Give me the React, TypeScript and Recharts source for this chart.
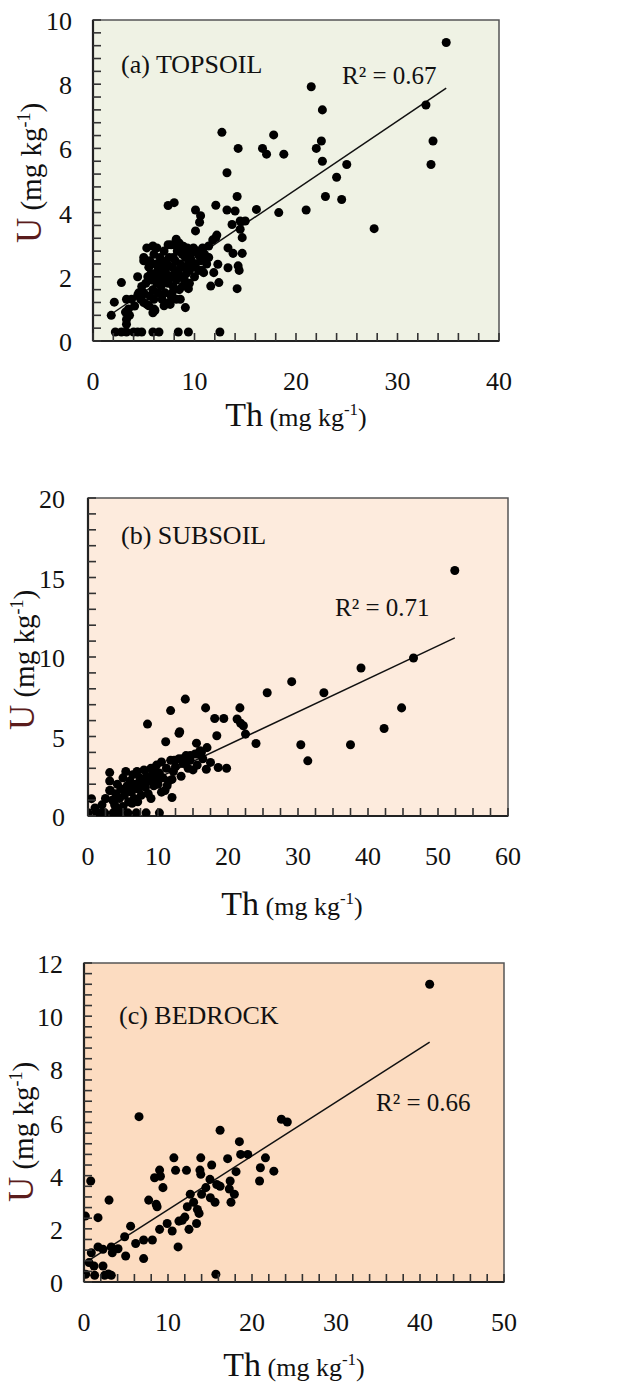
import React from "react";
import {
  ScatterChart,
  Scatter,
  XAxis,
  YAxis,
  ZAxis,
  ReferenceArea,
  ReferenceLine,
} from "recharts";

// Th (x) vs U (y), mg/kg
const topsoil: [number, number][] = [
  [34.8, 9.3], [21.5, 7.92], [22.6, 7.2], [32.8, 7.35], [12.7, 6.5], [17.8, 6.42], [16.7, 6.0],
  [17.1, 5.82], [18.8, 5.82], [14.3, 6.0], [22.0, 6.0], [22.5, 6.23], [33.5, 6.23], [22.6, 5.6],
  [25.0, 5.5], [33.3, 5.5], [13.2, 5.24], [24.0, 5.1], [22.9, 4.5], [24.5, 4.41], [14.2, 4.5],
  [21.0, 4.08], [18.3, 4.0], [16.1, 4.1], [27.7, 3.5],
  [7.4, 4.22], [8.0, 4.31], [10.1, 4.08], [12.1, 4.23], [13.2, 4.08], [14.0, 4.05], [10.6, 3.9],
  [10.5, 3.7], [13.7, 3.63], [14.5, 3.74], [15.0, 3.74], [10.1, 3.43], [14.5, 3.48], [14.7, 3.22],
  [12.1, 3.22], [11.4, 2.96], [13.3, 2.9], [14.7, 2.73], [13.8, 2.73], [13.3, 2.28], [14.3, 2.34],
  [14.4, 2.2], [12.3, 2.39], [11.9, 2.13], [12.4, 1.82], [11.6, 1.71], [14.2, 1.63], [10.5, 2.65],
  [10.9, 2.13], [11.3, 2.6], [10.2, 2.75], [11.8, 3.15], [12.2, 3.3],
  [2.8, 1.82], [2.1, 1.21], [1.8, 0.8], [3.3, 1.3], [3.3, 0.67], [3.3, 0.52], [3.2, 0.9], [4.4, 2.0],
  [4.1, 1.09], [4.4, 1.42], [4.9, 1.45], [5.3, 1.14], [5.9, 0.88], [6.1, 0.95], [9.1, 1.04],
  [8.6, 1.3], [9.4, 1.63], [7.6, 1.14], [3.5, 1.0], [3.6, 0.8], [3.8, 1.3],
  [2.2, 0.28], [2.8, 0.28], [3.3, 0.28], [4.0, 0.28], [4.4, 0.28], [4.8, 0.28], [5.9, 0.28],
  [6.5, 0.28], [8.4, 0.28], [9.4, 0.28], [12.5, 0.28],
  [5.3, 2.9], [5.9, 2.96], [5.0, 2.6], [5.0, 2.5], [7.4, 3.0], [8.0, 3.0], [8.2, 3.17], [8.5, 3.05],
  [5.0, 1.5], [5.2, 1.8], [5.4, 2.0], [5.5, 2.3], [5.6, 2.5], [5.8, 1.9], [5.9, 1.6], [6.0, 1.3],
  [6.1, 2.1], [6.2, 2.4], [6.3, 1.8], [6.4, 1.5], [6.5, 2.2], [6.6, 2.0], [6.7, 1.7], [6.8, 2.5],
  [6.9, 2.3], [7.0, 1.9], [7.1, 1.5], [7.2, 2.1], [7.3, 2.4], [7.4, 1.8], [7.5, 2.6], [7.6, 2.0],
  [7.7, 1.4], [7.8, 2.3], [7.9, 1.7], [8.0, 2.1], [8.1, 2.5], [8.2, 1.9], [8.3, 2.8], [8.4, 2.2],
  [8.5, 1.6], [8.6, 2.4], [8.7, 2.0], [8.8, 2.7], [8.9, 2.3], [9.0, 1.9], [9.1, 2.6], [9.2, 2.1],
  [9.3, 2.9], [9.4, 2.4], [9.5, 2.2], [9.6, 2.7], [9.7, 2.5], [9.8, 2.3], [9.9, 2.9], [10.1, 2.4],
  [10.3, 2.8], [10.4, 2.2], [10.6, 2.5], [10.8, 2.9], [11.0, 2.7], [11.2, 2.4], [11.4, 2.6],
  [6.0, 2.7], [6.3, 2.9], [7.0, 2.8], [7.7, 3.0], [8.9, 2.95], [9.2, 2.8], [4.5, 1.5], [4.7, 1.3],
  [4.8, 1.7], [5.0, 1.2], [5.5, 1.1], [5.6, 1.4], [6.0, 1.0], [6.8, 1.3], [7.0, 1.1], [7.5, 1.2],
  [7.8, 1.5], [8.2, 1.3], [8.8, 1.7], [6.2, 1.9], [6.6, 2.6], [7.1, 2.2], [7.9, 2.6], [8.6, 2.9],
  [9.5, 1.8], [10.0, 2.0], [10.7, 2.2], [6.4, 2.3], [5.7, 2.1],
];

const subsoil: [number, number][] = [
  [52.4, 15.44], [46.5, 9.94], [39.0, 9.31], [29.1, 8.45], [25.6, 7.75], [33.7, 7.75], [13.9, 7.35],
  [11.8, 6.63], [16.8, 6.8], [21.7, 6.8], [44.8, 6.8], [18.1, 6.13], [19.4, 6.13], [21.3, 6.1],
  [21.8, 5.83], [22.2, 5.68], [8.5, 5.78], [13.1, 5.3], [13.0, 5.2], [42.3, 5.5], [18.4, 5.05],
  [22.5, 5.15], [11.1, 4.67], [15.5, 4.58], [24.0, 4.56], [30.4, 4.48], [37.5, 4.48], [17.0, 4.3],
  [31.4, 3.47], [17.5, 3.37], [18.6, 3.05], [19.8, 3.0], [16.9, 2.94], [12.0, 1.16], [0.5, 1.09],
  [0, 0.2], [1.2, 0.2], [1.9, 0.2], [2.4, 0.2], [3.6, 0.2], [4.5, 0.2], [5.7, 0.2], [6.9, 0.2],
  [8.3, 0.2], [10.2, 0.2], [3.1, 2.73], [3.1, 2.2], [3.1, 1.6],
  [14.6, 3.8], [15.7, 3.9], [16.2, 4.0], [13.5, 3.6], [12.3, 3.5],
  [3.2, 1.6], [3.5, 1.0], [3.8, 0.7], [4.0, 1.4], [4.2, 2.0], [4.5, 1.1], [4.7, 1.7], [5.0, 2.4],
  [5.2, 1.3], [5.4, 2.8], [5.6, 1.9], [5.8, 0.9], [6.0, 2.2], [6.2, 1.5], [6.4, 2.6], [6.6, 1.1],
  [6.8, 2.0], [7.0, 2.8], [7.2, 1.7], [7.4, 2.4], [7.6, 1.3], [7.8, 2.1], [8.0, 2.9], [8.2, 1.8],
  [8.4, 2.5], [8.6, 1.4], [8.8, 2.2], [9.0, 3.0], [9.2, 2.6], [9.4, 1.9], [9.6, 2.3], [9.8, 3.2],
  [10.0, 2.0], [10.2, 2.7], [10.5, 3.4], [10.7, 2.4], [11.0, 1.6], [11.2, 3.0], [11.5, 2.2],
  [11.8, 3.5], [12.2, 2.8], [12.5, 3.1], [13.0, 3.6], [13.3, 2.5], [13.6, 3.3], [14.0, 3.8],
  [14.3, 3.0], [14.6, 3.5], [15.0, 2.9], [15.3, 3.9], [15.6, 3.2], [16.0, 4.1], [16.4, 3.6],
  [6.3, 0.8], [7.1, 0.9], [9.0, 1.1], [10.5, 1.5], [11.3, 1.9], [12.0, 2.3], [5.0, 0.6], [4.0, 0.5],
  [2.5, 1.1], [2.0, 0.7], [1.0, 0.5], [5.5, 1.6], [6.5, 1.8], [7.5, 2.0], [8.5, 2.3], [9.5, 2.8],
];

const bedrock: [number, number][] = [
  [41.15, 11.2], [6.55, 6.22], [23.5, 6.12], [24.2, 6.02], [16.2, 5.71], [18.5, 5.28], [18.65, 4.8],
  [19.5, 4.8], [10.7, 4.67], [13.9, 4.67], [17.1, 4.64], [21.6, 4.67], [15.2, 4.4], [21.0, 4.3],
  [9.0, 4.21], [10.9, 4.2], [12.2, 4.2], [13.8, 4.21], [22.6, 4.17], [18.1, 4.15], [8.4, 3.92],
  [9.1, 3.98], [13.9, 4.05], [15.0, 3.86], [20.9, 3.8], [0.8, 3.8], [17.4, 3.8], [15.8, 3.67],
  [16.2, 3.6], [17.3, 3.5], [9.4, 3.55], [14.5, 3.55], [12.65, 3.3], [17.9, 3.3], [14.0, 3.3],
  [2.98, 3.08], [7.7, 3.08], [13.05, 3.0], [15.04, 3.17], [15.6, 3.0], [17.5, 3.0], [8.6, 2.92],
  [8.7, 2.83], [12.3, 2.83], [13.5, 2.73], [13.7, 2.58], [1.67, 2.42], [0.16, 2.48], [12.0, 2.44],
  [11.3, 2.29], [11.7, 2.32], [9.9, 2.2], [13.4, 2.2], [5.55, 2.1], [9.0, 1.98], [10.5, 1.92],
  [12.5, 1.98], [4.84, 1.7], [6.15, 1.45], [7.1, 1.58], [8.14, 1.58], [11.2, 1.32], [7.1, 0.88],
  [4.96, 0.98], [1.67, 1.32], [2.26, 1.23], [3.25, 1.32], [4.05, 1.25], [3.37, 1.1], [0.87, 1.1],
  [0.6, 0.73], [1.19, 0.6], [2.26, 0.6], [0.2, 0.29], [1.27, 0.25], [2.46, 0.25], [3.25, 0.25],
  [15.7, 0.29], [2.9, 0.3],
];

// fitted lines, end points
const trendTopsoil = [{ x: 2.0, y: 0.88 }, { x: 34.8, y: 7.88 }];
const trendSubsoil = [{ x: 0, y: 0.32 }, { x: 52.4, y: 11.2 }];
const trendBedrock = [{ x: 0.67, y: 0.83 }, { x: 41.15, y: 9.02 }];

const FONT = "'Liberation Serif', 'Times New Roman', serif";
const TICK_LEN = 8;

const ticksFor = (max: number, step: number) =>
  Array.from({ length: Math.round(max / step) + 1 }, (_, i) => +(i * step).toFixed(3));

const isMajor = (v: number, step: number) => Math.abs(v / step - Math.round(v / step)) < 1e-6;

// every tick gets an inward mark; only the majors get a label (placed outside the frame)
const makeYTick = (major: number, labelX: number, plotLeft: number) => (props: any) => {
  const { payload } = props;
  const c = payload.coordinate;
  return (
    <g>
      <line x1={plotLeft} y1={c} x2={plotLeft + TICK_LEN} y2={c} stroke="#333" strokeWidth={1.6} />
      {isMajor(payload.value, major) && (
        <text x={labelX} y={c} dy={10} textAnchor="end" fontSize={26} fontFamily={FONT} fill="#111">
          {payload.value}
        </text>
      )}
    </g>
  );
};

const makeXTick = (major: number, plotBottom: number) => (props: any) => {
  const { payload } = props;
  const c = payload.coordinate;
  return (
    <g>
      <line x1={c} y1={plotBottom} x2={c} y2={plotBottom - TICK_LEN} stroke="#333" strokeWidth={1.6} />
      {isMajor(payload.value, major) && (
        <text x={c} y={plotBottom + 40} dy={9} textAnchor="middle" fontSize={26} fontFamily={FONT} fill="#111">
          {payload.value}
        </text>
      )}
    </g>
  );
};

interface PanelProps {
  top: number;
  height: number;
  margin: { top: number; right: number; bottom: number; left: number };
  data: [number, number][];
  trend: { x: number; y: number }[];
  xMax: number;
  xStep: number;
  xMajor: number;
  yMax: number;
  yStep: number;
  yMajor: number;
  yGap: number;
  bg: string;
}

function Panel(p: PanelProps) {
  const pts = p.data.map(([x, y]) => ({ x, y }));
  const plotH = p.height - p.margin.top - p.margin.bottom;
  const plotW = 632 - p.margin.left - p.margin.right;
  const plotBottom = p.margin.top + plotH;
  return (
    <div style={{ position: "absolute", left: 0, top: p.top, width: 632, height: p.height }}>
      <div
        style={{
          position: "absolute",
          left: p.margin.left,
          top: p.margin.top,
          width: plotW,
          height: plotH,
          background: p.bg,
        }}
      />
      <div style={{ position: "absolute", left: 0, top: 0 }}>
        <ScatterChart width={632} height={p.height} margin={p.margin}>
          <XAxis
            type="number"
            dataKey="x"
            domain={[0, p.xMax]}
            ticks={ticksFor(p.xMax, p.xStep)}
            interval={0}
            allowDataOverflow
            mirror
            tickLine={false}
            axisLine={false}
            tick={makeXTick(p.xMajor, plotBottom)}
          />
          <YAxis
            type="number"
            dataKey="y"
            domain={[0, p.yMax]}
            ticks={ticksFor(p.yMax, p.yStep)}
            interval={0}
            allowDataOverflow
            mirror
            tickLine={false}
            axisLine={false}
            tick={makeYTick(p.yMajor, p.margin.left - p.yGap, p.margin.left)}
          />
          <ZAxis range={[70, 70]} />
          <ReferenceArea
            x1={0}
            x2={p.xMax}
            y1={0}
            y2={p.yMax}
            fill="none"
            fillOpacity={0}
            stroke="#555"
            strokeWidth={1.5}
          />
          <ReferenceLine segment={[{ x: 0, y: 0 }, { x: p.xMax, y: 0 }]} stroke="#222" strokeWidth={2.2} />
          <ReferenceLine segment={[{ x: 0, y: 0 }, { x: 0, y: p.yMax }]} stroke="#222" strokeWidth={2.2} />
          <ReferenceLine segment={p.trend} stroke="#111" strokeWidth={1.5} />
          <Scatter data={pts} fill="#000" isAnimationActive={false} />
        </ScatterChart>
      </div>
    </div>
  );
}

function YTitle({ x, y }: { x: number; y: number }) {
  return (
    <text transform={`translate(${x},${y}) rotate(-90)`} textAnchor="middle" fontFamily={FONT} fill="#111">
      <tspan fontSize={35} fill="#5a1c1c">U</tspan>
      <tspan fontSize={29}> (mg kg</tspan>
      <tspan fontSize={18} dy={-11}>-1</tspan>
      <tspan fontSize={29} dy={11}>)</tspan>
    </text>
  );
}

function XTitle({ x, y }: { x: number; y: number }) {
  return (
    <text x={x} y={y} textAnchor="middle" fontFamily={FONT} fill="#111">
      <tspan fontSize={34}>Th</tspan>
      <tspan fontSize={26}> (mg kg</tspan>
      <tspan fontSize={17} dy={-11}>-1</tspan>
      <tspan fontSize={26} dy={11}>)</tspan>
    </text>
  );
}

export default function App() {
  return (
    <div
      style={{
        position: "absolute",
        left: 0,
        top: 0,
        width: 632,
        height: 1385,
        background: "#fff",
        fontFamily: FONT,
      }}
    >
      <Panel
        top={0}
        height={460}
        margin={{ top: 20, right: 133, bottom: 119, left: 93 }}
        data={topsoil}
        trend={trendTopsoil}
        xMax={40}
        xStep={2}
        xMajor={10}
        yMax={10}
        yStep={0.4}
        yMajor={2}
        yGap={21}
        bg="#eff2e4"
      />
      <Panel
        top={460}
        height={460}
        margin={{ top: 38, right: 124, bottom: 104, left: 88 }}
        data={subsoil}
        trend={trendSubsoil}
        xMax={60}
        xStep={2.5}
        xMajor={10}
        yMax={20}
        yStep={1}
        yMajor={5}
        yGap={23}
        bg="#fdebdd"
      />
      <Panel
        top={920}
        height={465}
        margin={{ top: 43, right: 128, bottom: 103, left: 84 }}
        data={bedrock}
        trend={trendBedrock}
        xMax={50}
        xStep={2}
        xMajor={10}
        yMax={12}
        yStep={0.4}
        yMajor={2}
        yGap={21}
        bg="#fcdcc1"
      />
      <svg
        width={632}
        height={1385}
        style={{ position: "absolute", left: 0, top: 0, pointerEvents: "none" }}
      >
        <text x={121} y={73} fontSize={26} fontFamily={FONT} fill="#111">(a) TOPSOIL</text>
        <text x={342} y={84} fontSize={25} fontFamily={FONT} fill="#111">R² = 0.67</text>
        <YTitle x={41} y={173} />
        <XTitle x={296} y={426} />

        <text x={121} y={544} fontSize={26} fontFamily={FONT} fill="#111">(b) SUBSOIL</text>
        <text x={335} y={616} fontSize={25} fontFamily={FONT} fill="#111">R² = 0.71</text>
        <YTitle x={34} y={660} />
        <XTitle x={292} y={915} />

        <text x={119} y={1024} fontSize={26} fontFamily={FONT} fill="#111">(c) BEDROCK</text>
        <text x={376} y={1111} fontSize={25} fontFamily={FONT} fill="#111">R² = 0.66</text>
        <YTitle x={33} y={1132} />
        <XTitle x={294} y={1376} />
      </svg>
    </div>
  );
}
